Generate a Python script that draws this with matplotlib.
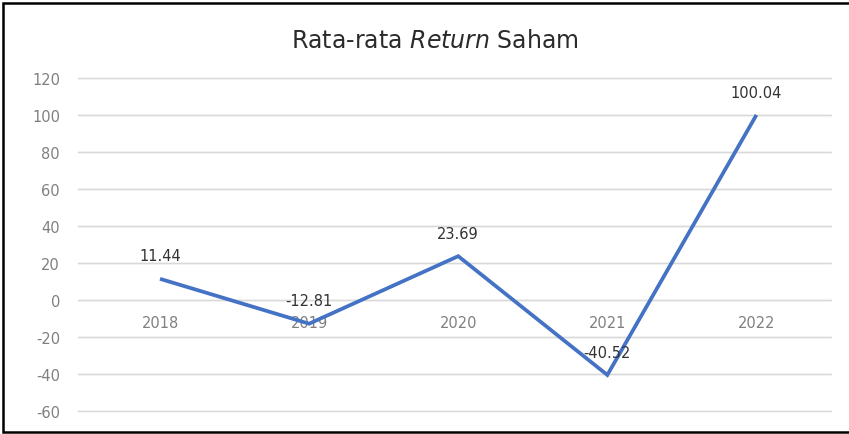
import matplotlib
matplotlib.use("Agg")
import matplotlib.pyplot as plt
from matplotlib.lines import Line2D

years = ["2018", "2019", "2020", "2021", "2022"]
returns = [11.44, -12.81, 23.69, -40.52, 100.04]
yticks = [-60, -40, -20, 0, 20, 40, 60, 80, 100, 120]

plt.rcParams['font.family'] = ['DejaVu Sans']

W, H = 849, 435
fig = plt.figure(figsize=(W/100, H/100), dpi=100)
fig.patch.set_facecolor('white')

def fx(px):
    return px / W

def fy(py):
    return 1 - py / H

# outer frame (right side is cut off in the reference)
fig.add_artist(Line2D([fx(849), fx(2.5), fx(2.5), fx(849)], [fy(4), fy(4), fy(433), fy(433)],
                      transform=fig.transFigure, color='black', linewidth=1.8,
                      solid_joinstyle='miter'))

left, right = 78, 831
top, bottom = 79, 412
ax = fig.add_axes([fx(left), fy(bottom), fx(right) - fx(left), fy(top) - fy(bottom)])
x = list(range(len(years)))
ax.plot(x, returns, color='#4472C4', linewidth=2.7, solid_joinstyle='miter',
        solid_capstyle='butt', zorder=3)
for xi, v in zip(x, returns):
    ax.annotate(f"{v:.2f}", (xi, v), xytext=(0, 16.5), textcoords='offset points',
                ha='center', va='center', fontsize=10.5, color='#333333', zorder=4)
ax.set_xlim(-0.55, 4.5)
ax.set_ylim(-60, 120)
ax.set_yticks(yticks)
ax.set_yticklabels([str(t) for t in yticks], fontsize=10.5, color='#808080')
ax.tick_params(axis='y', length=0, pad=13)
ax.set_xticks([])
for xi, lab in zip(x, years):
    ax.annotate(lab, (xi, 0), xytext=(0, -16.5), textcoords='offset points',
                ha='center', va='center', fontsize=10.5, color='#808080', zorder=2)
ax.grid(axis='y', color='#d9d9d9', linewidth=1)
ax.set_axisbelow(True)
for s in ax.spines.values():
    s.set_visible(False)
for t in yticks:
    ax.axhline(t, color='#d9d9d9', linewidth=1, zorder=0, clip_on=False)
fig.text(fx(435), fy(41), "Rata-rata $\\mathit{Return}$ Saham", ha='center', va='center',
         fontsize=17, color='#2b2b2b')
fig.savefig("out.png", dpi=100)
